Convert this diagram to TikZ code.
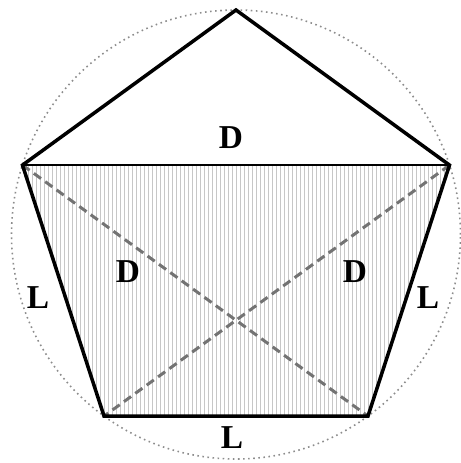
\documentclass[tikz,border=0pt]{standalone}
\usepackage{fontspec}
\setmainfont{Liberation Serif}
\usetikzlibrary{calc}
\tikzset{
  rim/.style={draw=black!45, dotted, line width=0.9pt},
  side/.style={draw=black, line width=2pt, line join=miter},
  chord/.style={draw=black, line width=1.2pt},
  diag/.style={draw=black!55, dashed, line width=1.7pt, dash pattern=on 5pt off 3pt},
  hatch/.style={draw=black!22, line width=0.45pt},
  lab/.style={font=\fontsize{19}{22}\selectfont\bfseries, inner sep=0pt}
}
\begin{document}
\begin{tikzpicture}
\useasboundingbox (-4.72,-4.57) rectangle (4.5,4.69);

%% circumscribed circle
\draw[rim] (0,0) circle (4.49);

%% vertices
\coordinate (top)   at (90:4.49);
\coordinate (left)  at (162:4.49);
\coordinate (right) at (18:4.49);
\coordinate (bl)    at (234:4.49);
\coordinate (br)    at (306:4.49);

%% hatched trapezoid
\begin{scope}
  \clip (left) -- (right) -- (br) -- (bl) -- cycle;
  \foreach \x in {-4.48,-4.4,...,4.5}
    \draw[hatch] (\x,-4) -- (\x,1.6);
\end{scope}

%% diagonals
\draw[diag] (left) -- (br);
\draw[diag] (right) -- (bl);

%% sides
\draw[chord] (left) -- (right);
\draw[side] (left) -- (top) -- (right) -- (br) -- (bl) -- cycle;

%% labels
\node[lab] (dtop)   at (-0.1, 1.93)  {D};
\node[lab] (dleft)  at (-2.16,-0.75) {D};
\node[lab] (dright) at (2.38,-0.75)  {D};
\node[lab] (lleft)  at (-3.96,-1.27) {L};
\node[lab] (lright) at (3.84,-1.27)  {L};
\node[lab] (lbot)   at (-0.08,-4.07) {L};

\end{tikzpicture}
\end{document}
